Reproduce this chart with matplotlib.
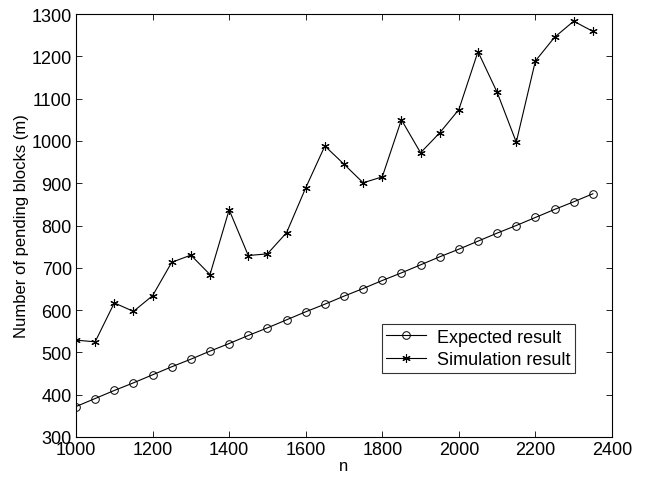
import matplotlib
matplotlib.use("Agg")
import matplotlib.pyplot as plt

plt.rcParams['font.family'] = ['Liberation Sans', 'DejaVu Sans']

n = list(range(1000, 2400, 50))
expected = [372, 391, 410, 428, 447, 466, 484, 503, 521, 540, 558, 577, 596, 614,
            633, 651, 670, 688, 707, 726, 744, 763, 782, 800, 819, 838, 856, 875]
simulation = [529, 525, 617, 597, 634, 713, 730, 684, 837, 729, 733, 783, 889, 988,
              945, 901, 915, 1050, 972, 1019, 1074, 1211, 1115, 997, 1189, 1245, 1283, 1259]

fig = plt.figure(figsize=(6.48, 4.81), dpi=100)
ax = fig.add_axes([0.1173, 0.0894, 0.8271, 0.8794])

ax.plot(n, expected, color='black', lw=0.8, marker='o', markersize=5.5,
        markerfacecolor='none', markeredgewidth=0.7, label='Expected result')
ax.plot(n, simulation, color='black', lw=0.8, marker=(6, 2, 0), markersize=6,
        markeredgewidth=0.8, label='Simulation result')

ax.set_xlim(1000, 2400)
ax.set_ylim(300, 1300)
ax.set_xticks(range(1000, 2401, 200))
ax.set_yticks(range(300, 1301, 100))
ax.tick_params(direction='in', top=True, right=True, labelsize=13, length=4, width=0.6, pad=3)
for s in ax.spines.values():
    s.set_linewidth(0.8)

ax.set_xlabel('n', fontsize=12, labelpad=0)
ax.set_ylabel('Number of pending blocks (m)', fontsize=12, labelpad=2)

leg = ax.legend(loc='upper right', bbox_to_anchor=(0.931, 0.267), fontsize=13,
                frameon=True, fancybox=False, edgecolor='black', handlelength=2.2,
                borderpad=0.25, labelspacing=0.3, handletextpad=0.6, borderaxespad=0)
leg.get_frame().set_linewidth(0.8)

fig.savefig('out.png', dpi=100)
